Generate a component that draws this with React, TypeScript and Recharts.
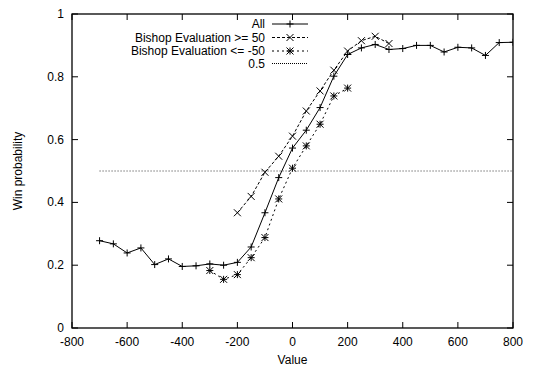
import React from 'react';
import { LineChart, Line, XAxis, YAxis } from 'recharts';

const xValues = [-700, -650, -600, -550, -500, -450, -400, -350, -300, -250, -200, -150, -100, -50, 0, 50, 100, 150, 200, 250, 300, 350, 400, 450, 500, 550, 600, 650, 700, 750, 800];
const allValues = [0.278, 0.268, 0.239, 0.255, 0.202, 0.220, 0.196, 0.198, 0.204, 0.200, 0.209, 0.258, 0.367, 0.479, 0.573, 0.630, 0.702, 0.802, 0.871, 0.892, 0.903, 0.887, 0.890, 0.900, 0.900, 0.879, 0.894, 0.892, 0.868, 0.909, 0.910];
const ge50X = [-200, -150, -100, -50, 0, 50, 100, 150, 200, 250, 300, 350];
const ge50Values = [0.367, 0.419, 0.496, 0.547, 0.611, 0.691, 0.755, 0.821, 0.882, 0.915, 0.929, 0.906];
const le50X = [-300, -250, -200, -150, -100, -50, 0, 50, 100, 150, 200];
const le50Values = [0.183, 0.155, 0.170, 0.224, 0.288, 0.411, 0.509, 0.580, 0.649, 0.739, 0.764];
const refValue = 0.5;
const xDomain = [-800, 800];
const yDomain = [0, 1];
const xTicks = [-800, -600, -400, -200, 0, 200, 400, 600, 800];
const yTicks = [0, 0.2, 0.4, 0.6, 0.8, 1];
const seriesNames = ['All', 'Bishop Evaluation >= 50', 'Bishop Evaluation <= -50', '0.5'];

const data = xValues.map((x, i) => {
  const gi = ge50X.indexOf(x);
  const li = le50X.indexOf(x);
  return {
    x,
    all: allValues[i],
    ge50: gi >= 0 ? ge50Values[gi] : null,
    le50: li >= 0 ? le50Values[li] : null,
    half: refValue,
  };
});

const FONT = '"Liberation Sans", Arial, Helvetica, sans-serif';
const W = 533;
const H = 368;
const PL = 72;
const PR = 513;
const PT = 14;
const PB = 328;
const TL = 6;
const M = 3.5;

const Plus = ({ cx, cy }: any) => (cx == null || cy == null ? null : (
  <g stroke="#000" strokeWidth={1}>
    <line x1={cx - M} x2={cx + M} y1={cy} y2={cy} />
    <line x1={cx} x2={cx} y1={cy - M} y2={cy + M} />
  </g>
));
const Cross = ({ cx, cy }: any) => (cx == null || cy == null ? null : (
  <g stroke="#000" strokeWidth={1}>
    <line x1={cx - M} x2={cx + M} y1={cy - M} y2={cy + M} />
    <line x1={cx - M} x2={cx + M} y1={cy + M} y2={cy - M} />
  </g>
));
const Star = ({ cx, cy }: any) => (cx == null || cy == null ? null : (
  <g stroke="#000" strokeWidth={1}>
    <line x1={cx - M} x2={cx + M} y1={cy} y2={cy} />
    <line x1={cx} x2={cx} y1={cy - M} y2={cy + M} />
    <line x1={cx - M} x2={cx + M} y1={cy - M} y2={cy + M} />
    <line x1={cx - M} x2={cx + M} y1={cy + M} y2={cy - M} />
  </g>
));

const fmtY = (v: number) => (v === 0 ? '0' : v === 1 ? '1' : String(v));

const YTick = (props: any) => {
  const { y, payload } = props;
  return (
    <text x={PL - 8} y={y} dy={4} textAnchor="end" fontSize={12} fontFamily={FONT} fill="#000">{fmtY(payload.value)}</text>
  );
};

const XTick = (props: any) => {
  const { x, payload } = props;
  return (
    <text x={x} y={PB + 18} textAnchor="middle" fontSize={12} fontFamily={FONT} fill="#000">{String(payload.value)}</text>
  );
};

const legendRows = [
  { name: seriesNames[0], dash: undefined, Marker: Plus, y: 24 },
  { name: seriesNames[1], dash: '3 2', Marker: Cross, y: 37.5 },
  { name: seriesNames[2], dash: '2 3', Marker: Star, y: 51 },
  { name: seriesNames[3], dash: '1 1', Marker: null as any, y: 63.5 },
];

// frame + inward ticks, placed on the same plot box the chart uses
const sx = (v: number) => PL + ((v - xDomain[0]) / (xDomain[1] - xDomain[0])) * (PR - PL);
const sy = (v: number) => PB - ((v - yDomain[0]) / (yDomain[1] - yDomain[0])) * (PB - PT);

const Overlay = () => (
  <svg width={W} height={H} style={{ position: 'absolute', left: 0, top: 0, pointerEvents: 'none' }}>
    <rect x={PL} y={PT} width={PR - PL} height={PB - PT} fill="none" stroke="#000" strokeWidth={1.3} />
    {xTicks.map((t) => (
      <path key={'x' + t} d={`M${sx(t)},${PB}v${-TL}M${sx(t)},${PT}v${TL}`} stroke="#000" strokeWidth={1} fill="none" />
    ))}
    {yTicks.map((t) => (
      <path key={'y' + t} d={`M${PL},${sy(t)}h${TL}M${PR},${sy(t)}h${-TL}`} stroke="#000" strokeWidth={1} fill="none" />
    ))}
    {legendRows.map((r) => (
      <g key={r.name}>
        <text x={265} y={r.y} dy={4} textAnchor="end" fontSize={12} fontFamily={FONT} fill="#000">{r.name}</text>
        <line x1={272} x2={308} y1={r.y} y2={r.y} stroke="#000" strokeWidth={1} strokeDasharray={r.dash} />
        {r.Marker ? <r.Marker cx={290} cy={r.y} /> : null}
      </g>
    ))}
  </svg>
);

export default function App() {
  return (
    <div style={{ position: 'absolute', left: 0, top: 0, width: W, height: H, background: '#fff' }}>
      <LineChart width={W} height={H} data={data} margin={{ top: PT, right: W - PR, bottom: 0, left: 0 }}>
        <XAxis
          dataKey="x"
          type="number"
          domain={xDomain}
          ticks={xTicks}
          tick={<XTick />}
          tickLine={false}
          axisLine={false}
          height={H - PB}
          interval={0}
          allowDataOverflow
          label={(p: any) => {
            const vb = p.viewBox || {};
            return (
              <text x={(vb.x ?? PL) + (vb.width ?? PR - PL) / 2} y={364} textAnchor="middle" fontSize={12} fontFamily={FONT} fill="#000">Value</text>
            );
          }}
        />
        <YAxis
          type="number"
          domain={yDomain}
          ticks={yTicks}
          tick={<YTick />}
          tickLine={false}
          axisLine={false}
          width={PL}
          interval={0}
          allowDataOverflow
          label={(p: any) => {
            const vb = p.viewBox || {};
            const cy = (vb.y ?? PT) + (vb.height ?? PB - PT) / 2;
            return (
              <text x={22} y={cy} transform={`rotate(-90 22 ${cy})`} textAnchor="middle" fontSize={12} fontFamily={FONT} fill="#000">Win probability</text>
            );
          }}
        />
        <Line dataKey="half" stroke="#000" strokeWidth={0.8} strokeDasharray="1 2" dot={false} isAnimationActive={false} />
        <Line dataKey="all" stroke="#000" strokeWidth={1} dot={<Plus />} isAnimationActive={false} />
        <Line dataKey="ge50" stroke="#000" strokeWidth={1} strokeDasharray="3 2" dot={<Cross />} isAnimationActive={false} />
        <Line dataKey="le50" stroke="#000" strokeWidth={1} strokeDasharray="2 3" dot={<Star />} isAnimationActive={false} />
      </LineChart>
      <Overlay />
    </div>
  );
}
